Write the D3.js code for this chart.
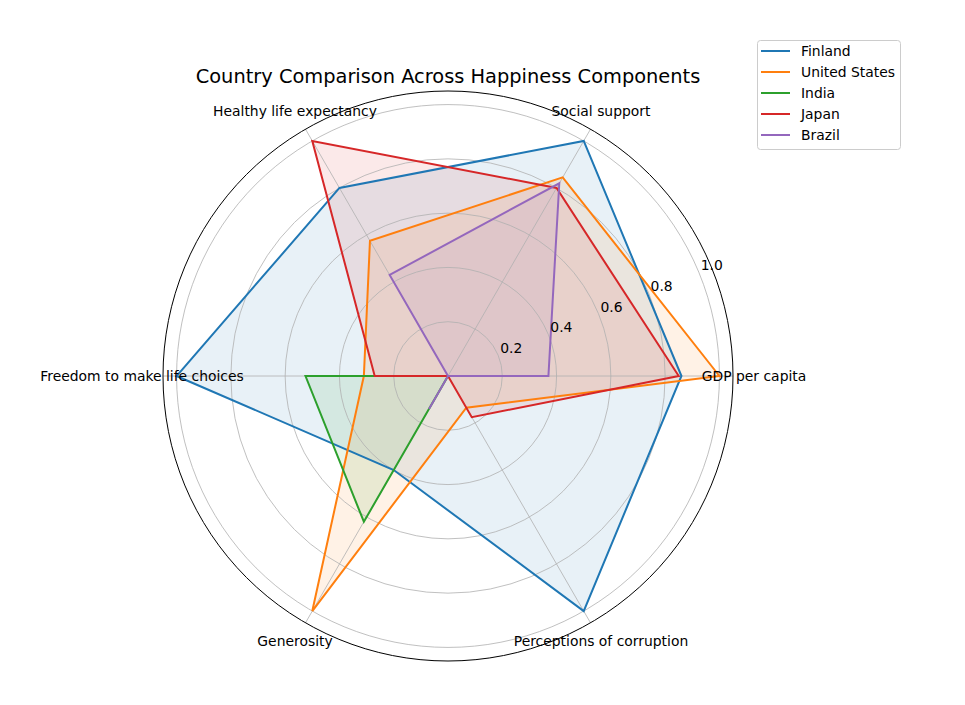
<!DOCTYPE html>
<html>
<head>
<meta charset="utf-8">
<script src="https://cdn.jsdelivr.net/npm/d3@7"></script>
<style>
  body { margin: 0; background: #fff; }
  svg { font-family: "DejaVu Sans", sans-serif; }
</style>
</head>
<body>
<svg id="chart" width="965" height="705"></svg>
<script>
const categories = ['GDP per capita', 'Social support', 'Healthy life expectancy',
  'Freedom to make life choices', 'Generosity', 'Perceptions of corruption'];
const countries = ['Finland', 'United States', 'India', 'Japan', 'Brazil'];
const finland = [0.86, 1.0, 0.80, 1.0, 0.40, 1.0];
const unitedStates = [1.0, 0.845, 0.575, 0.31, 1.0, 0.135];
const india = [0, 0, 0, 0.525, 0.62, 0];
const japan = [0.85, 0.80, 1.0, 0.27, 0, 0.175];
const brazil = [0.37, 0.82, 0.43, 0, 0.14, 0];
const radialTicks = [0.2, 0.4, 0.6, 0.8, 1.0];
const colors = ['#1f77b4', '#ff7f0e', '#2ca02c', '#d62728', '#9467bd'];

const seriesValues = [finland, unitedStates, india, japan, brazil];

const svg = d3.select('#chart');
const cx = 448, cy = 376;
const outer = 285;

const r = d3.scaleLinear().domain([0, 1.05]).range([0, outer]);
// matplotlib angle: 0 at right, counter-clockwise
const theta = d3.scaleLinear().domain([0, categories.length]).range([0, 2 * Math.PI]);
// d3 radial angle: 0 at top, clockwise
const d3angle = i => Math.PI / 2 - theta(i);

const g = svg.append('g').attr('transform', `translate(${cx},${cy})`);

// fills and lines
const radial = d3.lineRadial()
  .angle((d, i) => d3angle(i))
  .radius(d => r(d))
  .curve(d3.curveLinearClosed);

seriesValues.forEach((vals, k) => {
  g.append('path')
    .attr('d', radial(vals))
    .attr('fill', colors[k])
    .attr('fill-opacity', 0.1)
    .attr('stroke', 'none');
});

// grid
const grid = g.append('g');
grid.selectAll('circle.grid')
  .data(radialTicks)
  .join('circle')
  .attr('r', d => r(d))
  .attr('fill', 'none')
  .attr('stroke', '#b0b0b0')
  .attr('stroke-width', 0.8);

grid.selectAll('line.spoke')
  .data(categories)
  .join('line')
  .attr('x1', 0).attr('y1', 0)
  .attr('x2', (d, i) => outer * Math.cos(theta(i)))
  .attr('y2', (d, i) => -outer * Math.sin(theta(i)))
  .attr('stroke', '#b0b0b0')
  .attr('stroke-width', 0.8);

seriesValues.forEach((vals, k) => {
  g.append('path')
    .attr('d', radial(vals))
    .attr('fill', 'none')
    .attr('stroke', colors[k])
    .attr('stroke-width', 2)
    .attr('stroke-linejoin', 'miter');
});

// outer spine
g.append('circle')
  .attr('r', outer)
  .attr('fill', 'none')
  .attr('stroke', '#000')
  .attr('stroke-width', 1);

// category labels
g.selectAll('text.cat')
  .data(categories)
  .join('text')
  .attr('x', (d, i) => (outer + 21) * Math.cos(theta(i)))
  .attr('y', (d, i) => -(outer + 21) * Math.sin(theta(i)))
  .attr('text-anchor', 'middle')
  .attr('dy', '0.35em')
  .attr('font-size', 13.9)
  .attr('fill', '#000')
  .text(d => d);

// radial tick labels at 22.5 deg
const la = 22.5 * Math.PI / 180;
g.selectAll('text.rt')
  .data(radialTicks)
  .join('text')
  .attr('x', d => r(d) * Math.cos(la) + 2)
  .attr('y', d => -r(d) * Math.sin(la) - 2)
  .attr('text-anchor', 'start')
  .attr('font-size', 13.9)
  .attr('fill', '#000')
  .text(d => d.toFixed(1));

// title
svg.append('text')
  .attr('x', cx)
  .attr('y', 83)
  .attr('text-anchor', 'middle')
  .attr('font-size', 19.4)
  .attr('fill', '#000')
  .text('Country Comparison Across Happiness Components');

// legend
const legend = svg.append('g').attr('transform', 'translate(757,40)');
legend.append('rect')
  .attr('x', 0.5).attr('y', 0.5)
  .attr('width', 143).attr('height', 109)
  .attr('rx', 3)
  .attr('fill', '#fff')
  .attr('fill-opacity', 0.8)
  .attr('stroke', '#cccccc')
  .attr('stroke-width', 1);

const rows = legend.selectAll('g.row')
  .data(countries)
  .join('g')
  .attr('transform', (d, i) => `translate(0,${11 + i * 21})`);
rows.append('line')
  .attr('x1', 4).attr('x2', 33)
  .attr('stroke', (d, i) => colors[i])
  .attr('stroke-width', 2);
rows.append('text')
  .attr('x', 44)
  .attr('dy', '0.35em')
  .attr('font-size', 13.9)
  .attr('fill', '#000')
  .text(d => d);
</script>
</body>
</html>
